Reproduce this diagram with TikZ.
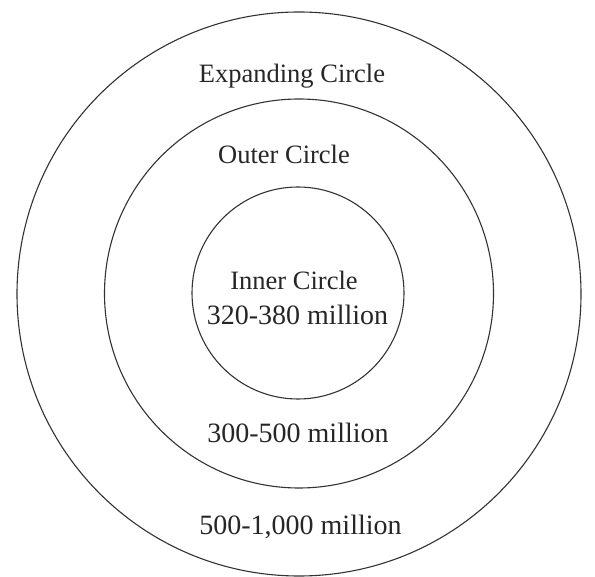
\documentclass[tikz,border=0pt]{standalone}
\usepackage{fontspec}
\setmainfont{Liberation Serif}
\begin{document}
\begin{tikzpicture}[x=1pt,y=-1pt,
  ring/.style={circle, draw=black!80, line width=1.1pt, inner sep=0pt, outer sep=0pt},
  lbl/.style={text=black!85, font=\fontsize{26.5}{30}\selectfont, inner sep=0pt},
  num/.style={lbl, font=\fontsize{28}{32}\selectfont}]
\useasboundingbox[fill=white] (0,0) rectangle (595,577);
\node[ring, minimum size=564pt] (outer) at (299,294) {};
\node[ring, minimum size=389pt] (middle) at (299,293.5) {};
\node[ring, minimum size=212pt] (inner) at (298,293) {};
\node[lbl] (exp) at (292,76) {Expanding Circle};
\node[lbl] (out) at (284,154) {Outer Circle};
\node[lbl] (inn) at (294,280) {Inner Circle};
\node[num] (innn) at (297.5,315) {320-380 million};
\node[num] (outn) at (298,433) {300-500 million};
\node[num] (expn) at (300.5,527) {500-1,000 million};
\end{tikzpicture}
\end{document}
